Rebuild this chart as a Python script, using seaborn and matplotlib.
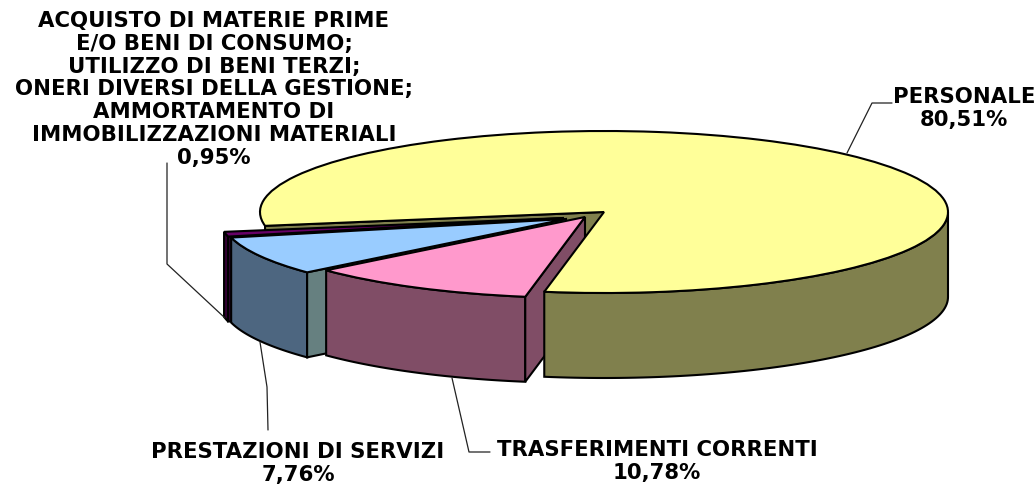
import numpy as np
import matplotlib
matplotlib.use("Agg")
import matplotlib.pyplot as plt
import seaborn as sns

labels = ["PERSONALE",
          "ACQUISTO DI MATERIE PRIME\nE/O BENI DI CONSUMO;\nUTILIZZO DI BENI TERZI;\nONERI DIVERSI DELLA GESTIONE;\nAMMORTAMENTO DI\nIMMOBILIZZAZIONI MATERIALI",
          "PRESTAZIONI DI SERVIZI",
          "TRASFERIMENTI CORRENTI"]
values = [80.51, 0.95, 7.76, 10.78]

top_colors = ["#FFFF99", "#660066", "#99CCFF", "#FF99CC"]
wall_colors = ["#80804D", "#330033", "#4D6680", "#804D66"]
cut_colors = ["#80804D", "#330033", "#668080", "#804D66"]

# layout in pixels of the 1035x484 picture
cx, cy, rx, ry, depth = 604, 212, 344, 81, 85
offsets = [(0, 0), (-41, 6), (-38, 7), (-19, 5)]
label_pos = [(964, 87), (214, 11), (298, 442), (657, 440)]
leaders = [[(847, 153), (872, 103), (892, 103)],
           [(167, 163), (167, 264), (225, 318)],
           [(260, 342), (267, 387), (268, 430)],
           [(452, 378), (469, 452), (490, 452)]]

sns.set_theme(style="white")
plt.rcParams["font.family"] = ["DejaVu Sans"]

fig = plt.figure(figsize=(10.35, 4.84), dpi=100)
ax = fig.add_axes([0, 0, 1, 1])
wedges, _ = ax.pie(values, startangle=-100, colors=top_colors,
                   wedgeprops=dict(edgecolor="black", linewidth=1.5))
ax.set_aspect("auto")
ax.set_xlim((0 - cx) / rx, (1035 - cx) / rx)
ax.set_ylim((cy - 484) / ry, cy / ry)
d = depth / ry


def arc(t1, t2, x0, y0):
    t = np.radians(np.linspace(t1, t2, 80))
    return x0 + np.cos(t), y0 + np.sin(t)


def wall(xs, ys, color, z):
    px = np.r_[xs, xs[::-1]]
    py = np.r_[ys, ys[::-1] - d]
    ax.fill(px, py, facecolor=color, edgecolor="black", linewidth=1.5, zorder=z)


for i, w in enumerate(wedges):
    x0 = offsets[i][0] / rx
    y0 = -offsets[i][1] / ry
    w.set_center((x0, y0))
    base = 2 + i * 2
    w.set_zorder(base + 1)
    xe, ye = arc(w.theta2, w.theta2, x0, y0)
    if i == 0:
        # left cut face shows in the gap, the rim is in front of the others
        wall(np.r_[x0, xe[0]], np.r_[y0, ye[0]], cut_colors[i], 1)
        w.set_zorder(12)
        xs, ys = arc(w.theta1, 0, x0, y0)
        wall(xs, ys, wall_colors[i], 11)
    else:
        xs, ys = arc(w.theta1, w.theta2, x0, y0)
        wall(xs, ys, wall_colors[i], base)
        wall(np.r_[x0, xe[0]], np.r_[y0, ye[0]], cut_colors[i], base)

over = fig.add_axes([0, 0, 1, 1])
over.set_xlim(0, 1035)
over.set_ylim(484, 0)
over.axis("off")
over.patch.set_alpha(0)

for name, v, pos, line in zip(labels, values, label_pos, leaders):
    txt = name + "\n" + f"{v:.2f}".replace(".", ",") + "%"
    over.text(pos[0], pos[1], txt, ha="center", va="top", fontsize=15.3,
              fontweight="bold", color="black", linespacing=1.175)
    over.plot([p[0] for p in line], [p[1] for p in line], color="#222222", lw=0.9)

fig.savefig("out.png", dpi=100, facecolor="white")
